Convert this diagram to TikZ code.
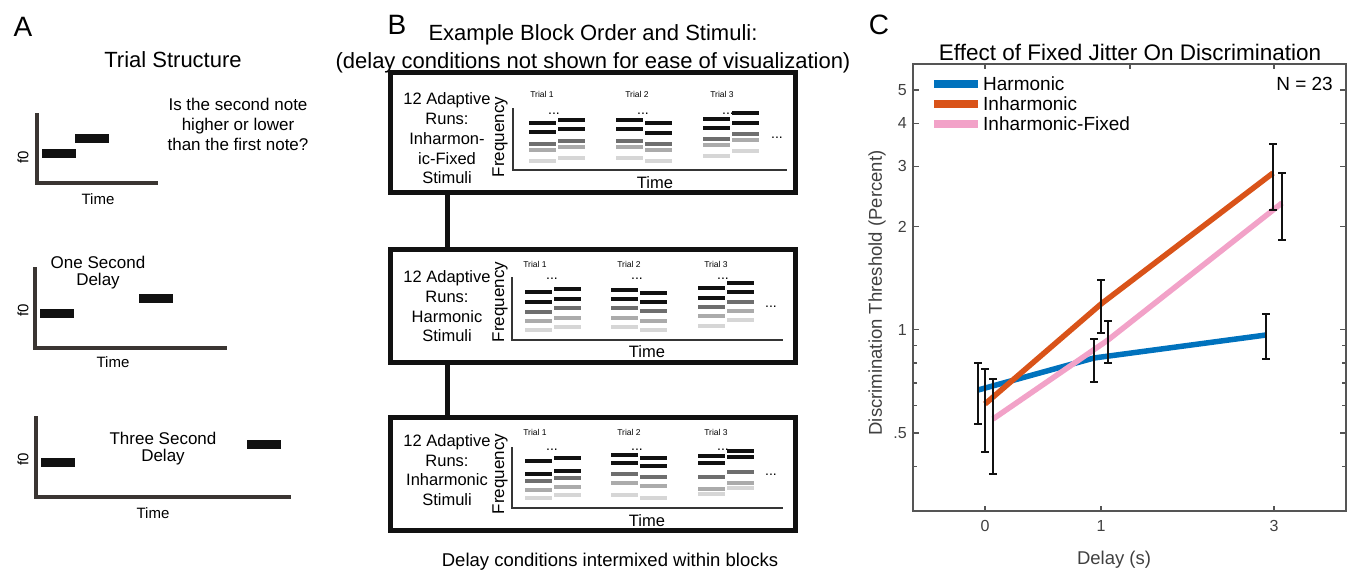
\documentclass[tikz,border=0pt]{standalone}
\usepackage{fontspec}
\setmainfont{Liberation Sans}
\definecolor{axA}{HTML}{3A3532}
\definecolor{mblue}{HTML}{0072BD}
\definecolor{morange}{HTML}{D95319}
\definecolor{mpink}{HTML}{F2A2C8}
\definecolor{axC}{HTML}{555555}
\definecolor{tickC}{HTML}{404040}
\definecolor{barK}{HTML}{111111}
\definecolor{barD}{HTML}{6E6E6E}
\definecolor{barM}{HTML}{ABABAB}
\definecolor{barL}{HTML}{D6D6D6}
\newcommand\tcol[6]{%
  \fill[barK] (#1,{#2-2.3}) rectangle ({#1+27},{#2+2.3});
  \fill[barK] (#1,{#3-2.3}) rectangle ({#1+27},{#3+2.3});
  \fill[barD] (#1,{#4-2.3}) rectangle ({#1+27},{#4+2.3});
  \fill[barM] (#1,{#5-2.3}) rectangle ({#1+27},{#5+2.3});
  \fill[barL] (#1,{#6-2.3}) rectangle ({#1+27},{#6+2.3});}
\newcommand\ebar[3]{%
  \draw[ebv] (#1,#2) -- (#1,#3);
  \draw[ebc] ({#1-4},#2) -- ({#1+4},#2);
  \draw[ebc] ({#1-4},#3) -- ({#1+4},#3);}
\begin{document}
\begin{tikzpicture}[x=1pt,y=-1pt,
  lbl/.style={inner sep=0pt,font=\fontsize{28}{30}\selectfont},
  ttl/.style={inner sep=0pt,align=center,font=\fontsize{22}{28}\selectfont},
  txtA/.style={inner sep=0pt,align=center,font=\fontsize{17}{17}\selectfont},
  qtxt/.style={inner sep=0pt,align=center,font=\fontsize{17}{20}\selectfont},
  axlbl/.style={inner sep=0pt,font=\fontsize{15}{15}\selectfont},
  axisA/.style={draw=axA,line width=4pt},
  noteA/.style={fill=barK},
  blockbox/.style={draw=barK,line width=5pt,minimum width=405pt,inner sep=0pt},
  boxtxt/.style={inner sep=0pt,align=center,font=\fontsize{16.5}{19.7}\selectfont},
  freq/.style={inner sep=0pt,rotate=90,font=\fontsize{17}{17}\selectfont},
  inax/.style={draw=barK!85,line width=2.3pt},
  timeB/.style={inner sep=0pt,font=\fontsize{16.5}{16.5}\selectfont},
  trial/.style={inner sep=0pt,font=\fontsize{8.5}{8.5}\selectfont},
  dots/.style={inner sep=0pt,anchor=base,font=\fontsize{14}{14}\selectfont},
  conn/.style={draw=barK,line width=5pt},
  axisC/.style={draw=axC,line width=1.2pt},
  tickl/.style={inner sep=0pt,text=tickC,font=\fontsize{16}{16}\selectfont},
  clbl/.style={inner sep=0pt,text=tickC,font=\fontsize{18.5}{18.5}\selectfont},
  leg/.style={inner sep=0pt,anchor=west,font=\fontsize{19}{19}\selectfont},
  dline/.style={line width=5.5pt},
  ebv/.style={draw=barK,line width=1.5pt},
  ebc/.style={draw=barK,line width=2.6pt}]
\useasboundingbox (0,0) rectangle (1355,570);
% ---------------- Panel A
\node[lbl] (labA) at (23,27) {A};
\node[ttl] (titA) at (173,60) {Trial Structure};
% plot 1
\draw[axisA] (37,113) -- (37,185) (35,183) -- (158,183);
\fill[noteA] (42,149) rectangle (76,158);
\fill[noteA] (75,134) rectangle (109,143);
\node[axlbl,rotate=90] (f01) at (23,157) {f0};
\node[axlbl] (time1) at (98,199) {Time};
\node[qtxt] (quest) at (238,124) {Is the second note\\higher or lower\\than the first note?};
% plot 2
\draw[axisA] (35,267) -- (35,350) (33,348) -- (227,348);
\fill[noteA] (40,309) rectangle (74,318);
\fill[noteA] (139,294) rectangle (173,303);
\node[axlbl,rotate=90] (f02) at (23,310) {f0};
\node[axlbl] (time2) at (113,362) {Time};
\node[txtA] (one) at (98,273) {One Second\\Delay};
% plot 3
\draw[axisA] (36,416) -- (36,499) (34,497) -- (291,497);
\fill[noteA] (41,458) rectangle (75,467);
\fill[noteA] (247,440) rectangle (281,449);
\node[axlbl,rotate=90] (f03) at (23,459) {f0};
\node[axlbl] (time3) at (153,513) {Time};
\node[txtA] (three) at (163,449) {Three Second\\Delay};
% ---------------- Panel B
\node[lbl] (labB) at (397,25) {B};
\node[ttl] (titB) at (593,49) {Example Block Order and Stimuli:\\(delay conditions not shown for ease of visualization)};
\node[blockbox,minimum height=120pt] (box1) at (593,132.5) {};
\node[blockbox,minimum height=113pt] (box2) at (593,306) {};
\node[blockbox,minimum height=113pt] (box3) at (593,474) {};
\node[boxtxt] (t1) at (447,138.5) {12 Adaptive\\Runs:\\Inharmon-\\ic-Fixed\\Stimuli};
\node[boxtxt] (t2) at (447,306.5) {12 Adaptive\\Runs:\\Harmonic\\Stimuli};
\node[boxtxt] (t3) at (447,470) {12 Adaptive\\Runs:\\Inharmonic\\Stimuli};
\draw[conn] (box1.south -| t1) -- (box2.north -| t1);
\draw[conn] (box2.south -| t2) -- (box3.north -| t2);
\node[ttl,font=\fontsize{18.5}{18.5}\selectfont] (foot) at (610,562) {Delay conditions intermixed within blocks};
% box 1 inner
\node[freq] (fr1) at (500,137) {Frequency};
\draw[inax] (513,108) -- (513,170) -- (787,170);
\node[timeB] (tm1) at (655,183) {Time};
\node[trial] (tr11) at (542,94) {Trial 1};
\node[trial] (tr12) at (637,94) {Trial 2};
\node[trial] (tr13) at (722,94) {Trial 3};
\node[dots] (d11) at (554,114) {...};
\node[dots] (d12) at (643,114) {...};
\node[dots] (d13) at (728,114) {...};
\node[dots] (d14) at (777,138) {...};
\tcol{529}{123}{132}{144}{150}{161}
\tcol{558}{120}{129}{141}{147}{158}
\tcol{616}{120}{129}{141}{147}{158}
\tcol{645}{123}{133}{144}{150}{161}
\tcol{703}{119}{128}{139}{145}{156}
\tcol{732}{113}{123}{134}{140}{151}
% box 2 inner
\node[freq] (fr2) at (500,302) {Frequency};
\draw[inax] (512,277) -- (512,340) -- (783,340);
\node[timeB] (tm2) at (647,352) {Time};
\node[trial] (tr21) at (535,264) {Trial 1};
\node[trial] (tr22) at (629,264) {Trial 2};
\node[trial] (tr23) at (716,264) {Trial 3};
\node[dots] (d21) at (552,279.5) {...};
\node[dots] (d22) at (637,279.5) {...};
\node[dots] (d23) at (723,279.5) {...};
\node[dots] (d24) at (771,307) {...};
\tcol{525}{292}{302}{312}{321}{330}
\tcol{554}{289}{299}{308}{318}{327}
\tcol{611}{290}{299}{308}{318}{327}
\tcol{640}{293}{302}{311}{321}{330}
\tcol{698}{288}{298}{307}{316}{326}
\tcol{727}{283}{292}{302}{311}{320}
% box 3 inner
\node[freq] (fr3) at (500,474) {Frequency};
\draw[inax] (512,447) -- (512,508) -- (783,508);
\node[timeB] (tm3) at (647,521) {Time};
\node[trial] (tr31) at (535,432) {Trial 1};
\node[trial] (tr32) at (629,432) {Trial 2};
\node[trial] (tr33) at (716,432) {Trial 3};
\node[dots] (d31) at (552,450.5) {...};
\node[dots] (d32) at (637,450.5) {...};
\node[dots] (d33) at (723,450.5) {...};
\node[dots] (d34) at (771,475.5) {...};
\tcol{525}{461}{474}{481}{490}{498}
\tcol{554}{458}{471}{478}{487}{495}
\tcol{611}{455}{463}{474}{483}{495}
\tcol{640}{458}{466}{477}{486}{498}
\tcol{698}{456}{463}{477}{489}{494}
\tcol{727}{451}{457}{472}{483}{488}
% ---------------- Panel C
\node[lbl] (labC) at (879,25) {C};
\node[ttl,font=\fontsize{22.5}{22.5}\selectfont] (titC) at (1130,52) {Effect of Fixed Jitter On Discrimination};
\draw[axisC] (913,64) rectangle (1346,511);
% x ticks
\foreach \x in {985,1101,1274} \draw[axisC] (\x,511) -- (\x,506);
\foreach \x in {985,1130,1274} \draw[axisC] (\x,64) -- (\x,69);
% y ticks (log)
\foreach \y in {466.2,405.8,382.9,363.0,345.4} {\draw[axisC] (913,\y) -- (917,\y); \draw[axisC] (1346,\y) -- (1342,\y);}
\foreach \y in {433,329.7,226.5,166.1,123.2,90} {\draw[axisC] (913,\y) -- (919,\y); \draw[axisC] (1346,\y) -- (1340,\y);}
\node[tickl,anchor=east] (y5) at (907,90) {5};
\node[tickl,anchor=east] (y4) at (907,123.2) {4};
\node[tickl,anchor=east] (y3) at (907,166.1) {3};
\node[tickl,anchor=east] (y2) at (907,226.5) {2};
\node[tickl,anchor=east] (y1) at (907,329.7) {1};
\node[tickl,anchor=east] (y05) at (907,433) {.5};
\node[tickl] (x0) at (985,526) {0};
\node[tickl] (x1) at (1101,526) {1};
\node[tickl] (x3) at (1274,526) {3};
\node[clbl] (xlab) at (1114,560) {Delay (s)};
\node[clbl,rotate=90] (ylab) at (877,293) {Discrimination Threshold (Percent)};
% legend
\draw[mblue,line width=8pt] (934,84) -- (978,84);
\draw[morange,line width=8pt] (934,104) -- (978,104);
\draw[mpink,line width=8pt] (934,124) -- (978,124);
\node[leg] (lg1) at (983,84) {Harmonic};
\node[leg] (lg2) at (983,104) {Inharmonic};
\node[leg] (lg3) at (983,124) {Inharmonic-Fixed};
\node[leg,anchor=east] (nn) at (1333,84) {N = 23};
% data
\draw[dline,mblue] (978,390) -- (1094,358) -- (1266,335);
\draw[dline,morange] (985,404) -- (1101,304) -- (1273,173);
\draw[dline,mpink] (993,419) -- (1108,340) -- (1282,203);
\ebar{978}{363}{424}
\ebar{1094}{339}{382}
\ebar{1266}{314}{359}
\ebar{985}{369}{452}
\ebar{1101}{280}{333}
\ebar{1273}{144}{210}
\ebar{993}{379}{474}
\ebar{1108}{321}{363}
\ebar{1282}{173}{240}
\end{tikzpicture}
\end{document}
